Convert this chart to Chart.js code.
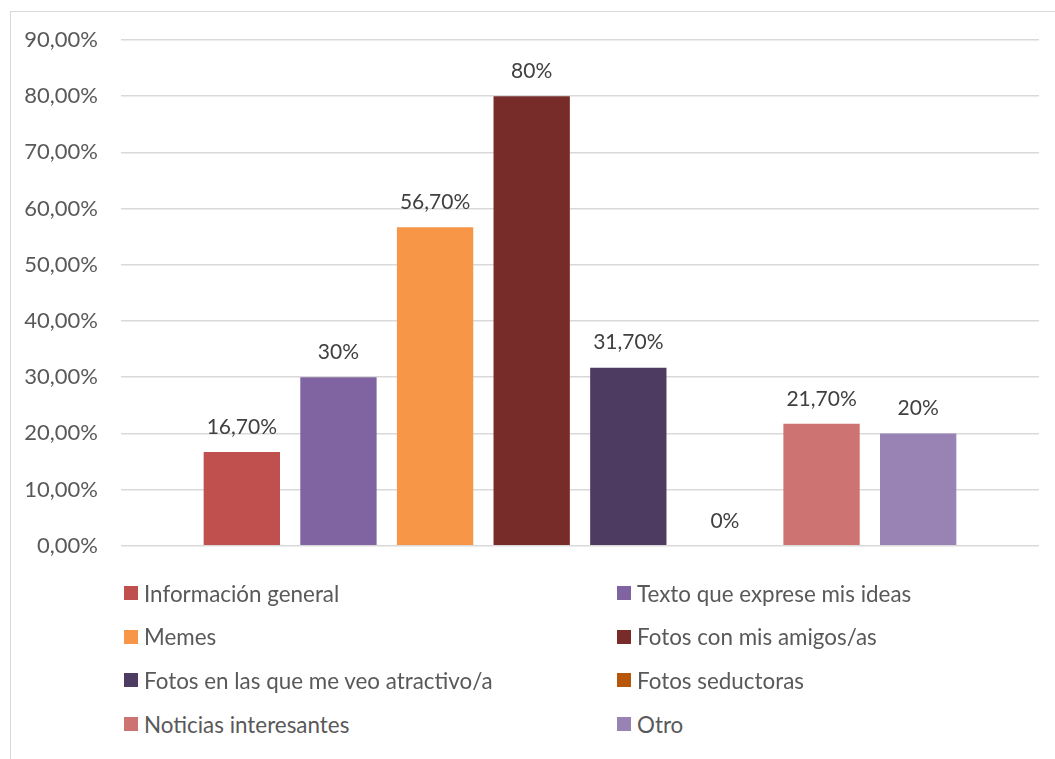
<!DOCTYPE html>
<html>
<head>
<meta charset="utf-8">
<script src="https://cdn.jsdelivr.net/npm/chart.js@4.4.1/dist/chart.umd.min.js"></script>
<style>
  html, body { margin: 0; padding: 0; background: #fff; }
  #contenedor { position: relative; width: 1055px; height: 759px; overflow: hidden; font-family: Lato, "Open Sans", sans-serif; }
  #marco { position: absolute; left: 10px; top: 11px; width: 1100px; height: 800px; border-left: 1px solid #d9d9d9; border-top: 1px solid #d9d9d9; }
  #grafico { position: absolute; left: 0; top: 0; }
  #leyenda { position: absolute; left: 124px; top: 571px; width: 900px; }
  .item { position: absolute; display: flex; align-items: center; height: 44px; font-size: 22.4px; color: #595959; white-space: nowrap; }
  .item span.caja { width: 14px; height: 14px; margin-right: 6px; display: inline-block; }
</style>
</head>
<body>
<div id="contenedor">
  <div id="marco"></div>
  <canvas id="grafico" width="1055" height="582"></canvas>
  <div id="leyenda"></div>
</div>
<script>
// Datos del gráfico
const categorias = [
  "Información general",
  "Texto que exprese mis ideas",
  "Memes",
  "Fotos con mis amigos/as",
  "Fotos en las que me veo atractivo/a",
  "Fotos seductoras",
  "Noticias interesantes",
  "Otro",
];
const valores = [16.7, 30, 56.7, 80, 31.7, 0, 21.7, 20];
const etiquetas = ["16,70%", "30%", "56,70%", "80%", "31,70%", "0%", "21,70%", "20%"];
const colores = ["#C0504D", "#8064A2", "#F79646", "#772C2A", "#4D3B62", "#B65708", "#CD7371", "#9983B5"];
const ticksY = ["0,00%", "10,00%", "20,00%", "30,00%", "40,00%", "50,00%", "60,00%", "70,00%", "80,00%", "90,00%"];

// Plugin para escribir el valor encima de cada barra
const etiquetasBarras = {
  id: "etiquetasBarras",
  afterDatasetsDraw(chart) {
    const ctx = chart.ctx;
    ctx.save();
    ctx.font = "21px Lato, 'Open Sans', sans-serif";
    ctx.fillStyle = "#404040";
    ctx.textAlign = "center";
    ctx.textBaseline = "middle";
    chart.data.datasets.forEach((ds, i) => {
      const barra = chart.getDatasetMeta(i).data[0];
      ctx.fillText(etiquetas[i], barra.x, barra.y - 25);
    });
    ctx.restore();
  },
};

const ctx = document.getElementById("grafico").getContext("2d");
new Chart(ctx, {
  type: "bar",
  data: {
    labels: [""],
    datasets: categorias.map((nombre, i) => ({
      label: nombre,
      data: [valores[i]],
      backgroundColor: colores[i],
      borderWidth: 0,
    })),
  },
  options: {
    responsive: false,
    animation: false,
    categoryPercentage: 0.842,
    barPercentage: 0.79,
    layout: { padding: { left: 0, right: 16, top: 40, bottom: 15 } },
    scales: {
      x: { display: false },
      y: {
        min: 0,
        max: 90,
        afterFit: (scale) => { scale.width = 121; },
        border: { display: false },
        grid: { color: "#d9d9d9", lineWidth: 1.5, drawTicks: false },
        ticks: {
          stepSize: 10,
          padding: 23,
          color: "#595959",
          font: { family: "Lato, 'Open Sans', sans-serif", size: 22 },
          callback: (v) => ticksY[Math.round(v / 10)],
        },
      },
    },
    plugins: {
      legend: { display: false },
      tooltip: { enabled: false },
    },
  },
  plugins: [etiquetasBarras],
});

// Leyenda en dos columnas
const leyenda = document.getElementById("leyenda");
categorias.forEach((nombre, i) => {
  const item = document.createElement("div");
  item.className = "item";
  item.style.left = (i % 2 === 0 ? 0 : 493) + "px";
  item.style.top = Math.floor(i / 2) * 43.7 + "px";
  item.innerHTML = '<span class="caja" style="background:' + colores[i] + '"></span>' + nombre;
  leyenda.appendChild(item);
});
</script>
</body>
</html>
